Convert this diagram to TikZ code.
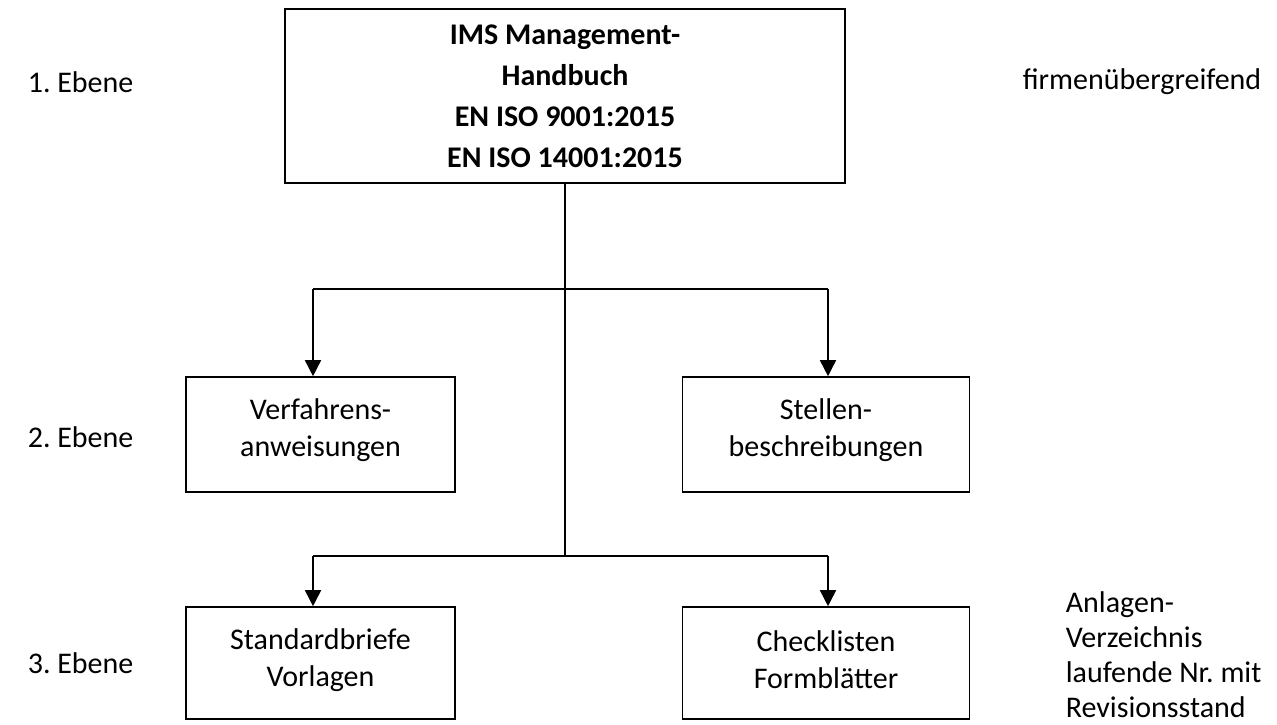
\documentclass[tikz,border=0pt]{standalone}
\usepackage{fontspec}
\setmainfont{Carlito}
\frenchspacing
\usetikzlibrary{arrows.meta}

\begin{document}
\begin{tikzpicture}[x=1pt,y=-1pt,line width=1.6pt,
  box/.style={draw,rectangle,inner sep=0pt},
  txt/.style={align=center,inner sep=0pt,font=\fontsize{30}{37}\selectfont},
  lbl/.style={font=\fontsize{30}{35}\selectfont,inner sep=0pt},
  >={Triangle[length=16pt,width=16pt]}]
  \useasboundingbox (0,0) rectangle (1277,724);
  % boxes
  \node[box,align=center,minimum width=560pt,minimum height=174pt,
    font=\fontsize{30}{41}\selectfont\bfseries] (hb) at (565,96)
    {IMS Management-\\Handbuch\\EN ISO 9001:2015\\EN ISO 14001:2015};
  \node[box,minimum width=269pt,minimum height=115pt] (va) at (320.5,434.5) {};
  \node[box,minimum width=287pt,minimum height=115pt] (sb) at (826,434.5) {};
  \node[box,minimum width=269pt,minimum height=112pt] (sv) at (320.5,663) {};
  \node[box,minimum width=287pt,minimum height=112pt] (cf) at (826,663) {};
  % box texts
  \node[txt] (vat) at ([yshift=4pt]va.center) {Verfahrens-\\anweisungen};
  \node[txt] (sbt) at ([yshift=4pt]sb.center) {Stellen-\\beschreibungen};
  \node[txt] (svt) at ([yshift=3pt]sv.center) {Standardbriefe\\Vorlagen};
  \node[txt] (cft) at ([yshift=3pt]cf.center) {Checklisten\\Formblätter};
  % labels
  \node[lbl,anchor=west] (e1) at (27,82) {1. Ebene};
  \node[lbl,anchor=west] (e2) at (27,437) {2. Ebene};
  \node[lbl,anchor=west] (e3) at (27,663) {3. Ebene};
  \node[lbl,anchor=east] (fu) at (1262,82) {firmenübergreifend};
  \node[lbl,anchor=north west,align=left] (av) at (1065,591)
    {Anlagen-\\Verzeichnis\\laufende Nr. mit\\Revisionsstand};
  % connectors
  \coordinate (s1) at (313,289);
  \coordinate (s2) at (828,289);
  \coordinate (t1) at (313,556);
  \coordinate (t2) at (828,556);
  \draw (hb.south) -- (hb.south |- t1);
  \draw (s1) -- (s2);
  \draw (t1) -- (t2);
  \draw[->] (s1) -- (s1 |- va.north);
  \draw[->] (s2) -- (s2 |- sb.north);
  \draw[->] (t1) -- (t1 |- sv.north);
  \draw[->] (t2) -- (t2 |- cf.north);
\end{tikzpicture}
\end{document}
